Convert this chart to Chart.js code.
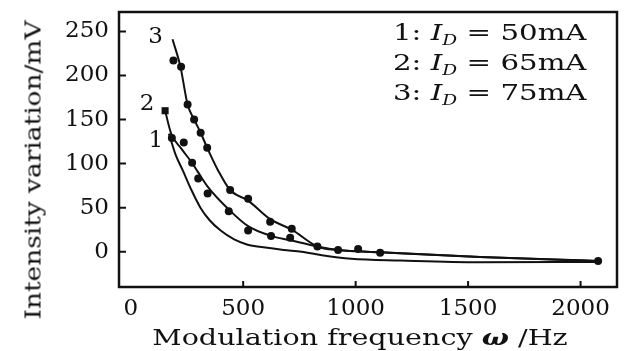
<!DOCTYPE html>
<html>
<head>
<meta charset="utf-8">
<script src="https://cdn.jsdelivr.net/npm/chart.js@4.4.1/dist/chart.umd.min.js"></script>
<style>
  html, body { margin: 0; padding: 0; background: #fff; }
  #wrap { position: relative; width: 627px; height: 351px; font-family: "DejaVu Serif", serif; color: #111; }
  #chart { position: absolute; left: 0; top: 0; }
  .legend { position: absolute; right: 40px; top: 18px; font-size: 22px; text-align: right; white-space: nowrap; transform: scaleX(1.33); transform-origin: right top; }
  .legend div { height: 30px; line-height: 30px; }
  .legend .sub { font-size: 14px; line-height: 0; position: relative; top: 5px; font-style: italic; }
  .ytitle { position: absolute; left: 33px; top: 170px; transform: translate(-50%, -50%) rotate(-90deg) scaleX(1.2); white-space: nowrap; font-size: 22px; }
  .xtitle { position: absolute; left: 360px; top: 337px; transform: translate(-50%, -50%) scaleX(1.3); white-space: nowrap; font-size: 22px; }
</style>
</head>
<body>
<div id="wrap">
  <canvas id="chart" width="627" height="351"></canvas>
  <div class="legend">
    <div>1: <i>I</i><span class="sub">D</span> = 50mA</div>
    <div>2: <i>I</i><span class="sub">D</span> = 65mA</div>
    <div>3: <i>I</i><span class="sub">D</span> = 75mA</div>
  </div>
  <div class="ytitle">Intensity variation/mV</div>
  <div class="xtitle">Modulation frequency <i><b>ω</b></i> /Hz</div>
</div>
<script>
const xTicks = [0, 500, 1000, 1500, 2000];
const yTicks = [0, 50, 100, 150, 200, 250];
const curveNames = ['1', '2', '3'];

// fitted curves (Hz, mV)
const fitFreq1 = [170, 200, 232, 270, 310, 350, 400, 460, 520, 590, 680, 760, 850, 980, 1200, 1550, 2080];
const fitVal1 = [134, 110, 92, 70, 50, 36, 24, 14, 8, 5, 2, 0, -4, -8, -10, -12, -11.5];

const fitFreq2 = [153, 180, 225, 275, 300, 342, 436, 522, 624, 709, 829, 922, 1109, 1553, 2078];
const fitVal2 = [160, 134, 117, 100, 90, 74, 48, 29, 18, 13, 6, 2, -0.5, -6, -10.5];

const fitFreq3 = [186, 221, 253, 282, 311, 340, 389, 442, 522, 620, 716, 830, 922, 1109, 1553, 1998, 2078];
const fitVal3 = [241, 210, 167, 150, 135, 118, 92, 70, 58, 37, 25, 6, 2, -0.5, -6, -9.6, -10.5];

// measured points
const ptFreq2 = [153, 183, 236, 273, 300, 342, 436, 522, 624, 709];
const ptVal2 = [160, 129, 124, 101, 83, 66, 46, 24, 18, 16];

const ptFreq3 = [190, 224, 253, 282, 311, 340, 442, 522, 620, 716, 830, 922, 1011, 1109, 2078];
const ptVal3 = [217, 210, 167, 150, 135, 118, 70, 60, 34, 26, 6, 2, 3, -1, -10.5];

const toXY = (xs, ys) => xs.map((x, i) => ({ x: x, y: ys[i] }));

const ink = '#111';

const fitLine = (xs, ys) => ({
  data: toXY(xs, ys),
  showLine: true,
  borderColor: ink,
  borderWidth: 2,
  pointRadius: 0,
  cubicInterpolationMode: 'monotone'
});

const markers = (xs, ys, styles, sizes) => ({
  data: toXY(xs, ys),
  showLine: false,
  pointRadius: sizes,
  pointStyle: styles,
  backgroundColor: ink,
  borderColor: ink,
  borderWidth: 0
});

// draws the frame, inward ticks and the curve numbers
const frame = {
  id: 'frame',
  afterDraw(chart) {
    const { ctx, chartArea: a, scales: { x, y } } = chart;
    ctx.save();
    ctx.strokeStyle = ink;
    ctx.lineWidth = 2.5;
    ctx.strokeRect(a.left, a.top, a.right - a.left, a.bottom - a.top);
    ctx.lineWidth = 2;
    ctx.beginPath();
    xTicks.forEach((v) => {
      if (v === 0) return;
      const px = x.getPixelForValue(v);
      ctx.moveTo(px, a.bottom);
      ctx.lineTo(px, a.bottom - 6);
    });
    yTicks.forEach((v) => {
      const py = y.getPixelForValue(v);
      ctx.moveTo(a.left, py);
      ctx.lineTo(a.left + 7, py);
    });
    ctx.stroke();

    ctx.fillStyle = ink;
    ctx.font = '23px "DejaVu Serif"';
    ctx.textAlign = 'center';
    ctx.textBaseline = 'middle';
    const starts = [[fitFreq1[0], fitVal1[0], -13, 7], [fitFreq2[0], fitVal2[0], -18, -7], [fitFreq3[0], fitVal3[0], -17, -2]];
    starts.forEach((s, i) => {
      ctx.fillText(curveNames[i], x.getPixelForValue(s[0]) + s[2], y.getPixelForValue(s[1]) + s[3]);
    });
    ctx.restore();
  }
};

const tickFont = { family: 'DejaVu Serif', size: 23 };

new Chart(document.getElementById('chart'), {
  type: 'scatter',
  data: {
    datasets: [
      fitLine(fitFreq1, fitVal1),
      fitLine(fitFreq2, fitVal2),
      fitLine(fitFreq3, fitVal3),
      markers(ptFreq2, ptVal2, ptFreq2.map((v, i) => i === 0 ? 'rect' : 'circle'), ptFreq2.map((v, i) => i === 0 ? 5 : 4)),
      markers(ptFreq3, ptVal3, 'circle', 4)
    ]
  },
  options: {
    responsive: false,
    animation: false,
    layout: { padding: { top: 12, right: 10, left: 0, bottom: 0 } },
    plugins: { legend: { display: false }, tooltip: { enabled: false } },
    scales: {
      x: {
        type: 'linear',
        min: -52,
        max: 2162,
        afterBuildTicks: (scale) => { scale.ticks = xTicks.map((v) => ({ value: v })); },
        afterFit: (scale) => { scale.height = 64; scale.paddingLeft = 0; scale.paddingRight = 0; },
        grid: { display: false, drawTicks: false },
        border: { display: false },
        ticks: { font: tickFont, color: ink, padding: 8, autoSkip: false, maxRotation: 0, callback: (v) => String(v) }
      },
      y: {
        type: 'linear',
        min: -40,
        max: 272,
        afterBuildTicks: (scale) => { scale.ticks = yTicks.map((v) => ({ value: v })); },
        afterFit: (scale) => { scale.width = 119; scale.paddingTop = 0; scale.paddingBottom = 0; },
        grid: { display: false, drawTicks: false },
        border: { display: false },
        ticks: { font: tickFont, color: ink, padding: 10, callback: (v) => String(v) }
      }
    }
  },
  plugins: [frame]
});
</script>
</body>
</html>
